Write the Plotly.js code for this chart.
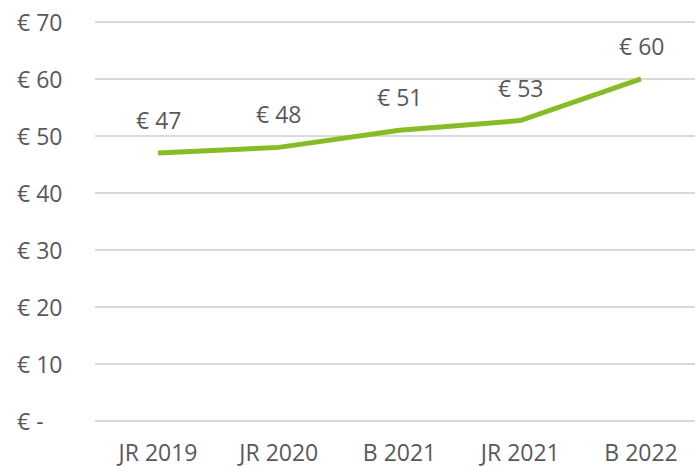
<!DOCTYPE html>
<html>
<head>
<meta charset="utf-8">
<script src="https://cdn.plot.ly/plotly-3.0.1.min.js"></script>
<style>html,body{margin:0;padding:0;background:#fff;}#chart{width:695px;height:467px;}</style>
</head>
<body>
<div id="chart"></div>
<script>
const categories = ["JR 2019", "JR 2020", "B 2021", "JR 2021", "B 2022"];
const values = [47, 48, 51, 52.7, 60];
const valueLabels = ["€ 47", "€ 48", "€ 51", "€ 53", "€ 60"];
const yTickVals = [0, 10, 20, 30, 40, 50, 60, 70];
const yTickText = ["€ -", "€ 10", "€ 20", "€ 30", "€ 40", "€ 50", "€ 60", "€ 70"];

const textColor = "#595959";
const fontFamily = "'Open Sans', sans-serif";
const fontSize = 23;

const trace = {
  x: categories,
  y: values,
  type: "scatter",
  mode: "lines",
  line: {color: "#86BC25", width: 5},
  hoverinfo: "skip"
};

const dataAnnotations = categories.map((c, i) => ({
  x: c, y: values[i], xref: "x", yref: "y",
  text: valueLabels[i], showarrow: false, yshift: 33,
  font: {family: fontFamily, size: fontSize, color: textColor}
}));

// y tick labels, left-aligned as in the reference, positioned by the y axis scale
const tickAnnotations = yTickVals.map((v, i) => ({
  x: -0.133, y: v, xref: "paper", yref: "y",
  xanchor: "left", yanchor: "middle",
  text: yTickText[i], showarrow: false,
  font: {family: fontFamily, size: fontSize, color: textColor}
}));

const layout = {
  width: 695, height: 467,
  margin: {l: 95, r: 0, t: 10, b: 37},
  paper_bgcolor: "#fff", plot_bgcolor: "#fff",
  showlegend: false,
  font: {family: fontFamily, size: fontSize, color: textColor},
  xaxis: {
    type: "category",
    range: [-0.522, 4.447],
    showgrid: false, zeroline: false, showline: false,
    ticks: "", ticklabelstandoff: 7,
    tickfont: {family: fontFamily, size: fontSize, color: textColor}
  },
  yaxis: {
    range: [-1.58, 72.1],
    tickvals: yTickVals, showticklabels: false,
    showgrid: true, gridcolor: "#d9d9d9", gridwidth: 2,
    zeroline: false, showline: false, ticks: ""
  },
  annotations: dataAnnotations.concat(tickAnnotations)
};

Plotly.newPlot("chart", [trace], layout, {displayModeBar: false, staticPlot: true});
</script>
</body>
</html>
